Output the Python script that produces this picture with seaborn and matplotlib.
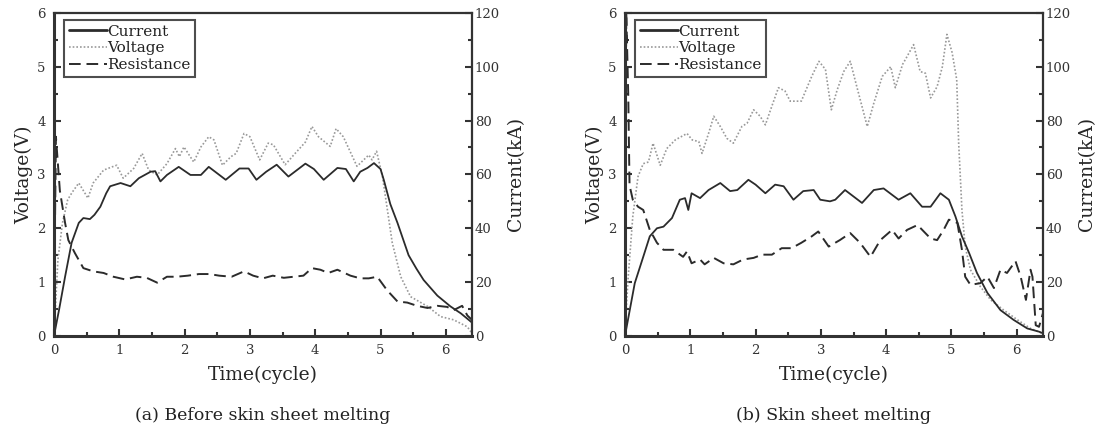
import matplotlib
matplotlib.use('Agg')
import matplotlib.pyplot as plt
from matplotlib.lines import Line2D
from matplotlib.ticker import MultipleLocator
import seaborn as sns
import numpy as np

# (a) before skin sheet melting
t_cur_a = [0.0, 0.08, 0.17, 0.27, 0.38, 0.45, 0.55, 0.62, 0.71, 0.8, 0.86, 1.02, 1.17, 1.3, 1.48, 1.55,
           1.63, 1.73, 1.91, 2.09, 2.25, 2.37, 2.5, 2.63, 2.84, 2.98, 3.1, 3.25, 3.41, 3.59, 3.85, 3.98,
           4.13, 4.34, 4.47, 4.59, 4.69, 4.8, 4.9, 5.0, 5.05, 5.15, 5.26, 5.43, 5.55, 5.66, 5.87, 6.07,
           6.23, 6.4]
cur_a = [0, 10, 22, 34.6, 42, 43.8, 43.4, 45, 48, 53, 55.6, 56.8, 55.6, 58.6, 61, 61.2,
         57.4, 59.8, 62.8, 59.8, 59.8, 62.8, 60.4, 58, 62.2, 62.2, 58, 61, 63.6, 59.2, 64, 62,
         58, 62.4, 62, 57.4, 61, 62.4, 64.2, 62, 58, 49, 42, 30, 25, 20.8, 15, 11,
         8.4, 5]

t_vol_a = [0.0, 0.06, 0.13, 0.21, 0.28, 0.38, 0.52, 0.6, 0.76, 0.89, 0.96, 1.06, 1.22, 1.35, 1.45, 1.58,
           1.73, 1.86, 1.92, 1.99, 2.14, 2.25, 2.37, 2.45, 2.58, 2.71, 2.79, 2.91, 3.0, 3.15, 3.28, 3.36,
           3.54, 3.7, 3.85, 3.95, 4.05, 4.23, 4.32, 4.43, 4.64, 4.82, 4.87, 4.94, 5.03, 5.09, 5.18, 5.31,
           5.46, 5.72, 5.92, 6.12, 6.33, 6.4]
vol_a = [0.0, 1.41, 2.1, 2.53, 2.67, 2.84, 2.56, 2.84, 3.08, 3.14, 3.17, 2.93, 3.11, 3.39, 3.08, 2.99,
         3.2, 3.48, 3.33, 3.51, 3.23, 3.51, 3.7, 3.64, 3.17, 3.33, 3.39, 3.76, 3.7, 3.27, 3.58, 3.55,
         3.18, 3.4, 3.6, 3.89, 3.7, 3.52, 3.85, 3.7, 3.15, 3.36, 3.27, 3.43, 2.96, 2.47, 1.73, 1.1,
         0.73, 0.55, 0.36, 0.3, 0.17, 0.05]

t_res_a = [0.0, 0.03, 0.06, 0.09, 0.17, 0.22, 0.32, 0.45, 0.6, 0.76, 0.91, 1.09, 1.27, 1.42, 1.58, 1.73,
           1.88, 2.05, 2.22, 2.38, 2.53, 2.72, 2.91, 3.05, 3.2, 3.35, 3.52, 3.67, 3.82, 3.95, 4.08, 4.2,
           4.34, 4.54, 4.69, 4.82, 4.95, 5.1, 5.26, 5.41, 5.56, 5.72, 5.87, 6.02, 6.12, 6.25, 6.33, 6.4]
res_a = [0.3, 3.7, 3.2, 2.7, 2.1, 1.78, 1.54, 1.26, 1.2, 1.17, 1.1, 1.05, 1.1, 1.08, 0.99, 1.1,
         1.1, 1.12, 1.15, 1.15, 1.12, 1.1, 1.2, 1.12, 1.07, 1.12, 1.08, 1.1, 1.12, 1.26, 1.23, 1.17,
         1.23, 1.12, 1.07, 1.07, 1.1, 0.85, 0.64, 0.62, 0.56, 0.52, 0.56, 0.54, 0.48, 0.56, 0.38, 0.3]

# (b) skin sheet melting
t_cur_b = [0.0, 0.15, 0.28, 0.38, 0.49, 0.59, 0.72, 0.84, 0.92, 0.97, 1.02, 1.15, 1.28, 1.46, 1.61, 1.72,
           1.89, 2.0, 2.15, 2.3, 2.43, 2.58, 2.73, 2.89, 2.99, 3.14, 3.22, 3.37, 3.63, 3.81, 3.96, 4.19,
           4.37, 4.55, 4.68, 4.83, 4.96, 5.06, 5.16, 5.27, 5.39, 5.55, 5.75, 5.95, 6.16, 6.34, 6.4]
cur_b = [0, 19.6, 29.4, 37, 40, 40.6, 43.8, 50.6, 51.2, 46.8, 53, 51.2, 54.2, 56.8, 53.8, 54.2,
         58, 56.2, 53, 56.2, 55.6, 50.6, 53.8, 54.2, 50.6, 50, 50.6, 54.2, 49.4, 54.2, 54.8, 50.6,
         53, 48, 48, 53, 50.6, 44.4, 37, 30.8, 23.4, 16, 9.6, 6, 2.8, 1.6, 1]

t_vol_b = [0.0, 0.05, 0.12, 0.2, 0.28, 0.36, 0.43, 0.54, 0.64, 0.77, 0.95, 1.03, 1.13, 1.18, 1.28, 1.36,
           1.46, 1.56, 1.66, 1.79, 1.87, 1.97, 2.07, 2.15, 2.25, 2.35, 2.45, 2.53, 2.7, 2.86, 2.97, 3.07,
           3.16, 3.25, 3.35, 3.45, 3.55, 3.71, 3.81, 3.94, 4.07, 4.14, 4.25, 4.32, 4.42, 4.52, 4.6, 4.68,
           4.78, 4.86, 4.93, 5.01, 5.08, 5.11, 5.16, 5.21, 5.29, 5.44, 5.6, 5.8, 6.01, 6.21, 6.39]
vol_b = [0.1, 1.1, 2.22, 2.96, 3.2, 3.23, 3.58, 3.17, 3.48, 3.64, 3.76, 3.64, 3.61, 3.39, 3.76, 4.08,
         3.89, 3.67, 3.58, 3.89, 3.95, 4.2, 4.08, 3.92, 4.27, 4.61, 4.55, 4.36, 4.36, 4.82, 5.1, 4.95,
         4.2, 4.57, 4.91, 5.1, 4.63, 3.89, 4.32, 4.82, 5.0, 4.61, 5.04, 5.19, 5.41, 4.91, 4.88, 4.42,
         4.63, 5.0, 5.6, 5.26, 4.76, 3.58, 2.34, 1.66, 1.23, 0.92, 0.67, 0.48, 0.3, 0.14, 0.05]

t_res_b = [0.0, 0.02, 0.05, 0.07, 0.12, 0.2, 0.28, 0.38, 0.49, 0.59, 0.74, 0.89, 0.95, 1.02, 1.15, 1.22,
           1.36, 1.51, 1.66, 1.81, 1.97, 2.1, 2.25, 2.4, 2.55, 2.7, 2.86, 2.96, 3.12, 3.29, 3.45, 3.6,
           3.76, 3.91, 4.09, 4.19, 4.32, 4.48, 4.6, 4.68, 4.78, 4.88, 4.96, 5.09, 5.16, 5.21, 5.29, 5.44,
           5.55, 5.65, 5.75, 5.85, 5.98, 6.06, 6.14, 6.21, 6.24, 6.29, 6.34, 6.4]
res_b = [0.5, 6.0, 4.5, 2.8, 2.53, 2.4, 2.34, 1.97, 1.73, 1.6, 1.6, 1.47, 1.57, 1.35, 1.42, 1.33,
         1.45, 1.35, 1.33, 1.42, 1.45, 1.51, 1.51, 1.63, 1.63, 1.73, 1.85, 1.94, 1.66, 1.78, 1.91, 1.73,
         1.47, 1.78, 1.97, 1.81, 1.97, 2.06, 1.91, 1.81, 1.78, 1.97, 2.16, 2.1, 1.6, 1.1, 0.95, 0.98,
         1.1, 0.89, 1.23, 1.17, 1.39, 1.1, 0.67, 1.23, 1.1, 0.2, 0.17, 0.42]

captions = ['(a) Before skin sheet melting', '(b) Skin sheet melting']

sns.set_style('ticks')
plt.rcParams['font.family'] = ['DejaVu Serif']
plt.rcParams['text.color'] = '#222222'

fig = plt.figure(figsize=(10.97, 4.28), dpi=100)

cur_style = dict(color='#2b2b2b', linewidth=1.3, linestyle='-')
vol_style = dict(color='#999999', linewidth=1.2, linestyle=(0, (1, 1.2)))
res_style = dict(color='#2b2b2b', linewidth=1.4, linestyle=(0, (6, 3)))

panels = [
    (0.0492, t_cur_a, cur_a, t_vol_a, vol_a, t_res_a, res_a, captions[0]),
    (0.5697, t_cur_b, cur_b, t_vol_b, vol_b, t_res_b, res_b, captions[1]),
]

for left, tc, c, tv, v, tr, r, cap in panels:
    ax = fig.add_axes([left, 0.215, 0.381, 0.755])
    ax2 = ax.twinx()

    sns.lineplot(x=tv, y=v, ax=ax, sort=False, **vol_style)
    sns.lineplot(x=tr, y=r, ax=ax, sort=False, **res_style)
    sns.lineplot(x=tc, y=c, ax=ax2, sort=False, **cur_style)

    ax.set_xlim(0, 6.4)
    ax.set_ylim(0, 6)
    ax2.set_ylim(0, 120)
    ax.xaxis.set_major_locator(MultipleLocator(1))
    ax.xaxis.set_minor_locator(MultipleLocator(0.5))
    ax.yaxis.set_major_locator(MultipleLocator(1))
    ax.yaxis.set_minor_locator(MultipleLocator(0.5))
    ax2.yaxis.set_major_locator(MultipleLocator(20))
    ax2.yaxis.set_minor_locator(MultipleLocator(10))

    for a in (ax, ax2):
        a.tick_params(which='both', direction='in', labelsize=9.5, colors='#333333',
                      labelcolor='#333333', width=1.5)
        a.tick_params(which='major', length=5)
        a.tick_params(which='minor', length=3)
    ax.tick_params(axis='y', pad=6)
    ax.tick_params(axis='x', pad=6)
    ax2.tick_params(axis='y', pad=2)

    for name, sp in ax2.spines.items():
        sp.set_linewidth(1.6)
        sp.set_color('#333333')
    ax2.spines['left'].set_linewidth(2.2)
    ax2.spines['bottom'].set_linewidth(2.2)
    for sp in ax.spines.values():
        sp.set_visible(False)

    ax.set_xlabel('Time(cycle)', fontsize=13.5, labelpad=6)
    ax.set_ylabel('Voltage(V)', fontsize=13.5, labelpad=3)
    ax2.set_ylabel('Current(kA)', fontsize=13.5, labelpad=5)

    handles = [Line2D([], [], **cur_style), Line2D([], [], **vol_style), Line2D([], [], **res_style)]
    handles[0].set_linewidth(2.0)
    leg = ax2.legend(handles, ['Current', 'Voltage', 'Resistance'], loc='upper left',
                     bbox_to_anchor=(0.024, 0.978), fontsize=11, frameon=True, fancybox=False,
                     handlelength=2.5, handletextpad=0.0, borderpad=0.3, labelspacing=0.18,
                     borderaxespad=0)
    leg.get_frame().set_edgecolor('#222222')
    leg.get_frame().set_linewidth(1.5)

    fig.text(left + 0.381 / 2, 0.03, cap, ha='center', va='center', fontsize=12.5)

fig.savefig('out.png', dpi=100)
